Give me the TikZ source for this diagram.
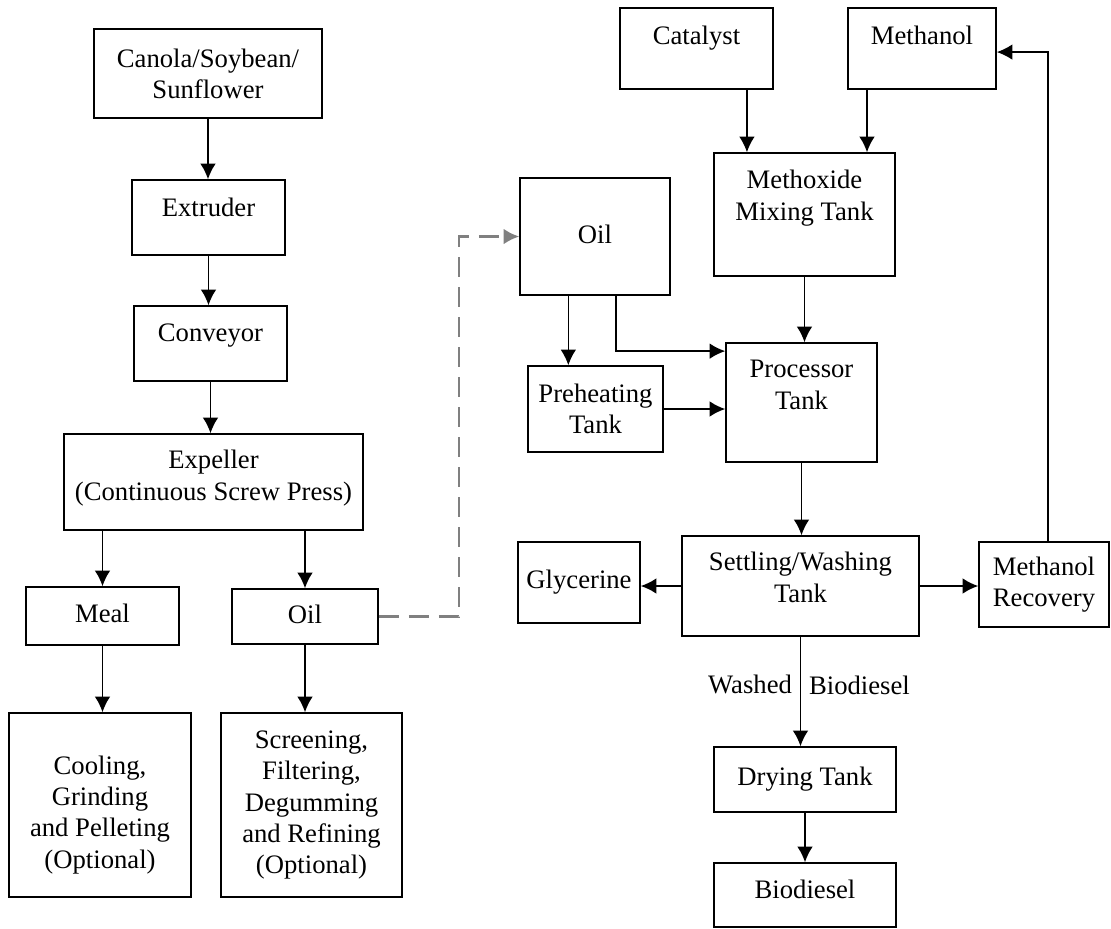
\documentclass[tikz,border=0pt]{standalone}
\usepackage{fontspec}
\setmainfont{Liberation Serif}
\usetikzlibrary{arrows.meta}

\begin{document}
\begin{tikzpicture}[x=0.45pt,y=-0.45pt,
    font=\fontsize{12}{14}\selectfont,
    blk/.style 2 args={draw, line width=0.7pt, align=center, inner sep=2pt,
      minimum width=#1*0.45pt, minimum height=#2*0.45pt},
    tpad/.style 2 args={text height=#1, text depth=#2},
    arr/.style={line width=0.7pt, -{Latex[length=7pt,width=7pt]}},
    dashline/.style={arr, line width=1pt, gray, dash pattern=on 9pt off 4.5pt}]
    \useasboundingbox (0,0) rectangle (1111,928);
    % Pressing
    \node[blk={228}{89}] (canola) at (208,73.5) {Canola/Soybean/\\Sunflower};
    \node[blk={153}{75}, tpad={10pt}{11.35pt}] (extruder) at (208.5,217.5) {Extruder};
    \node[blk={153}{75}, tpad={10pt}{12.25pt}] (conveyor) at (210.5,343.5) {Conveyor};
    \node[blk={299}{96}, tpad={19.2pt}{3pt}] (expeller) at (213.5,482) {Expeller\\(Continuous Screw Press)};
    \node[blk={153}{58}, tpad={10pt}{4.6pt}] (meal) at (102.5,616) {Meal};
    \node[blk={146}{55}, tpad={10pt}{4.15pt}] (oilL) at (305,616.5) {Oil};
    \node[blk={182}{184}, tpad={59.7pt}{3pt}] (cooling) at (100,805) {Cooling,\\Grinding\\and Pelleting\\(Optional)};
    \node[blk={181}{184}] (screening) at (311.5,805) {Screening,\\Filtering,\\Degumming\\and Refining\\(Optional)};
    % Biodiesel
    \node[blk={150}{117}, tpad={10pt}{4.15pt}] (oilR) at (595,236.5) {Oil};
    \node[blk={135}{86}] (preheat) at (595.5,409) {Preheating\\Tank};
    \node[blk={153}{81}, tpad={10pt}{14.05pt}] (catalyst) at (696.5,48.5) {Catalyst};
    \node[blk={148}{81}, tpad={10pt}{14.05pt}] (methanol) at (922,48.5) {Methanol};
    \node[blk={181}{123}, tpad={7.95pt}{3pt}] (methoxide) at (804.5,214.5) {Methoxide\\Mixing Tank};
    \node[blk={151}{119}, tpad={8.85pt}{3pt}] (processor) at (801.5,402.5) {Processor\\Tank};
    \node[blk={237}{100}, tpad={17.4pt}{3pt}] (settling) at (800.5,586) {Settling/Washing\\Tank};
    \node[blk={122}{81}] (glycerine) at (579,582.5) {Glycerine};
    \node[blk={130}{85}] (recovery) at (1044,584.5) {Methanol\\Recovery};
    \node[blk={182}{65}] (drying) at (805,779.5) {Drying Tank};
    \node[blk={182}{64}, tpad={10pt}{7.3pt}] (biodiesel) at (805,895) {Biodiesel};
    % Arrows
    \draw[arr] (canola.south) -- (canola.south |- extruder.north);
    \draw[arr] (extruder.south) -- (extruder.south |- conveyor.north);
    \draw[arr] (conveyor.south) -- (conveyor.south |- expeller.north);
    \draw[arr] (expeller.south -| meal.north) -- (meal.north);
    \draw[arr] (expeller.south -| oilL.north) -- (oilL.north);
    \draw[arr] (meal.south) -- (meal.south |- cooling.north);
    \draw[arr] (oilL.south) -- (oilL.south |- screening.north);
    \draw[dashline] (oilL.east) -- ++(80,0) |- (oilR.west);
    \draw[arr] ([xshift=-12pt]oilR.south) -- ([xshift=-12pt]oilR.south |- preheat.north);
    \draw[arr] ([xshift=9.5pt]oilR.south) |- ([yshift=-4pt]processor.north west);
    \draw[arr] (preheat.east) -- (preheat.east -| processor.west);
    \draw[arr] ([xshift=22.7pt]catalyst.south) -- ([xshift=22.7pt]catalyst.south |- methoxide.north);
    \draw[arr] ([xshift=-24.75pt]methanol.south) -- ([xshift=-24.75pt]methanol.south |- methoxide.north);
    \draw[arr] (methoxide.south) -- (methoxide.south |- processor.north);
    \draw[arr] (processor.south) -- (processor.south |- settling.north);
    \draw[arr] (settling.west) -- (settling.west -| glycerine.east);
    \draw[arr] (settling.east) -- (settling.east -| recovery.west);
    \draw[arr] ([xshift=1.8pt]recovery.north) |- ([yshift=-1.6pt]methanol.east);
    \draw[arr] (settling.south) -- (settling.south |- drying.north)
      node[pos=0.44, left, inner xsep=3.5pt] (washed) {Washed}
      node[pos=0.44, right, inner xsep=3.5pt] (washedbd) {Biodiesel};
    \draw[arr] (drying.south) -- (biodiesel.north);
\end{tikzpicture}
\end{document}
